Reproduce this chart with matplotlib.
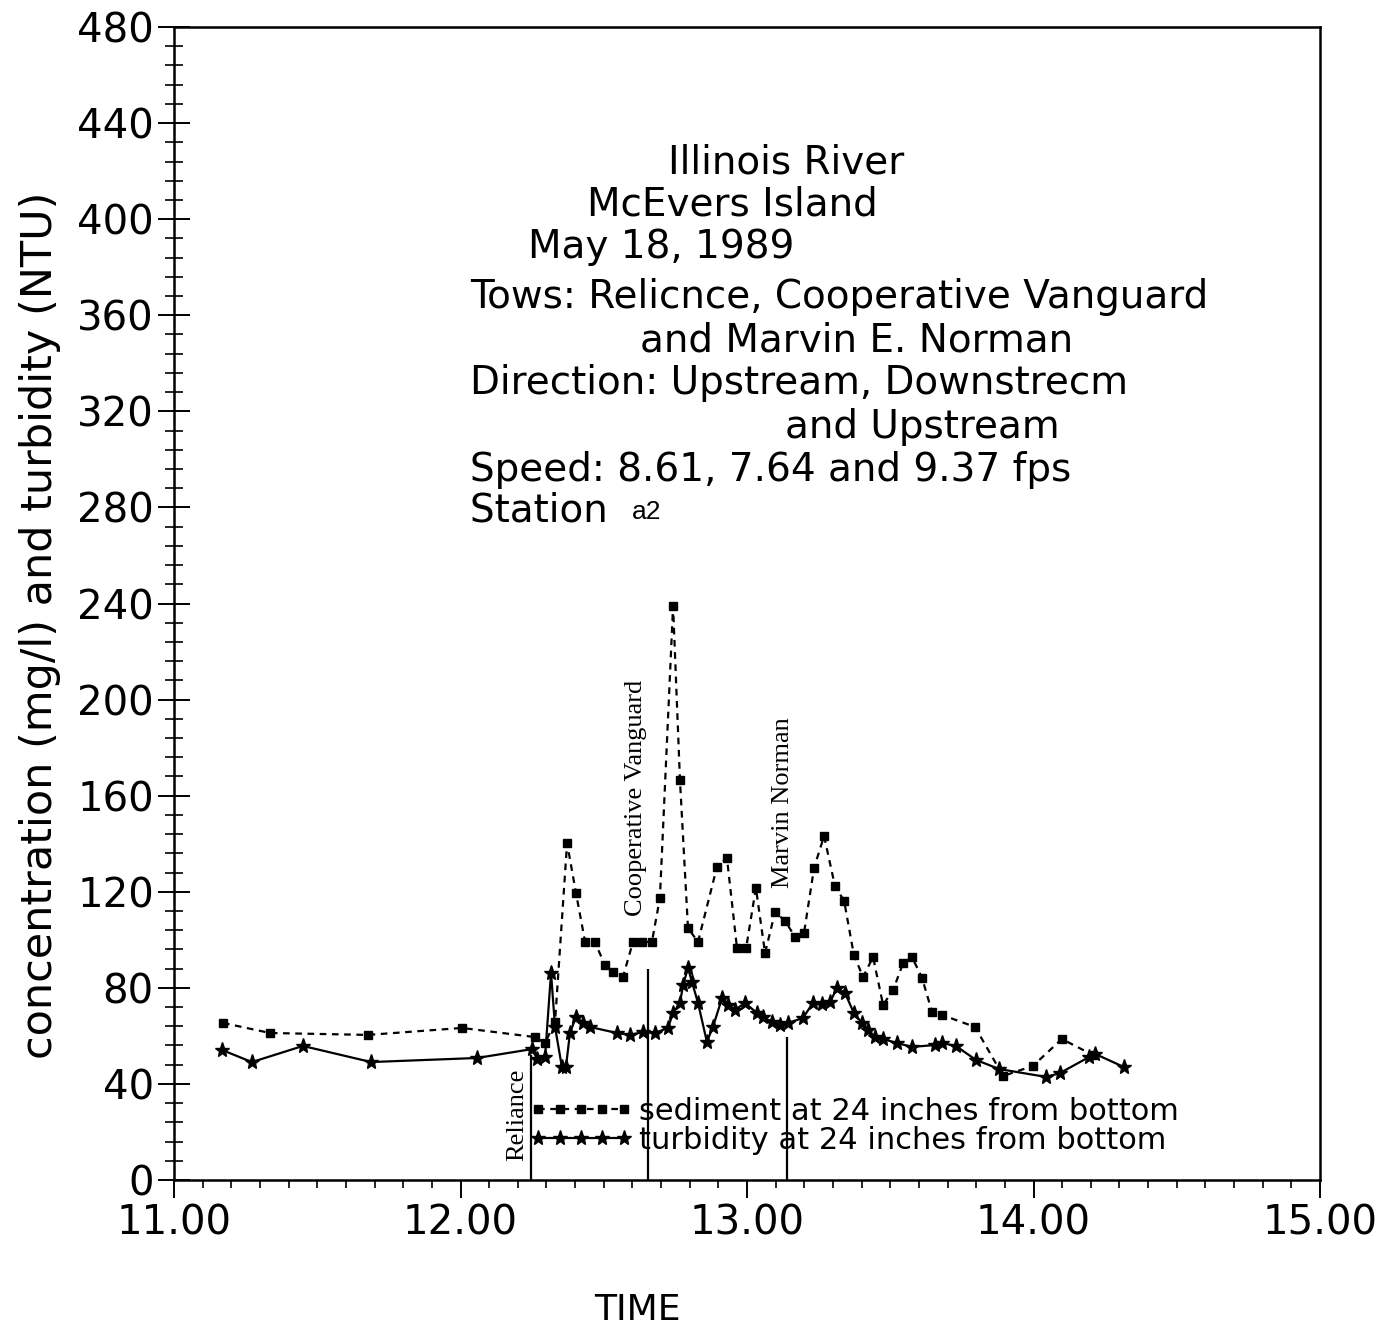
import matplotlib
matplotlib.use("Agg")
import matplotlib.pyplot as plt
from matplotlib.ticker import MultipleLocator, FormatStrFormatter

plt.rcParams['font.family'] = ['DejaVu Sans']

# ---- data ----
sed_time = [11.171, 11.335, 11.677, 12.005, 12.260, 12.295, 12.330, 12.372, 12.403,
            12.435, 12.469, 12.504, 12.532, 12.567, 12.602, 12.633, 12.668, 12.696,
            12.742, 12.766, 12.794, 12.829, 12.895, 12.930, 12.965, 12.997, 13.031,
            13.063, 13.098, 13.133, 13.168, 13.199, 13.234, 13.269, 13.307, 13.339,
            13.373, 13.405, 13.440, 13.475, 13.510, 13.545, 13.576, 13.611, 13.646,
            13.681, 13.796, 13.894, 13.998, 14.099, 14.208]
sed_conc = [65.4, 61.2, 60.4, 63.3, 59.5, 57.0, 65.8, 140.3, 119.5,
            99.1, 99.1, 89.5, 86.6, 84.5, 99.1, 99.1, 99.1, 117.4,
            239.0, 166.5, 104.9, 99.1, 130.3, 134.1, 96.6, 96.6, 121.6,
            94.5, 111.6, 107.8, 101.2, 102.8, 129.9, 143.2, 122.4, 116.2,
            93.7, 84.5, 92.8, 72.9, 79.1, 90.3, 92.8, 84.1, 69.9,
            68.7, 63.7, 43.3, 47.5, 58.7, 52.0]

turb_time = [11.168, 11.272, 11.450, 11.688, 12.058, 12.250, 12.267, 12.295, 12.316,
             12.330, 12.354, 12.368, 12.382, 12.403, 12.428, 12.452, 12.546, 12.592,
             12.637, 12.679, 12.724, 12.742, 12.766, 12.777, 12.794, 12.808, 12.829,
             12.860, 12.881, 12.913, 12.934, 12.958, 12.993, 13.035, 13.056, 13.087,
             13.115, 13.143, 13.195, 13.230, 13.262, 13.290, 13.314, 13.342, 13.373,
             13.401, 13.422, 13.447, 13.475, 13.524, 13.576, 13.656, 13.681, 13.729,
             13.799, 13.880, 14.044, 14.092, 14.194, 14.215, 14.316]
turb_ntu = [54.1, 49.1, 55.8, 49.1, 50.8, 54.5, 50.4, 51.2, 86.2,
            63.7, 47.0, 47.0, 61.2, 67.9, 65.4, 63.7, 61.2, 60.4,
            61.6, 61.2, 63.3, 69.5, 73.7, 81.2, 88.3, 82.4, 73.7,
            57.5, 63.7, 75.8, 72.9, 70.8, 73.7, 69.5, 67.9, 65.8,
            64.5, 65.4, 67.4, 73.7, 73.3, 74.1, 79.9, 77.9, 69.5,
            65.4, 62.4, 59.5, 58.7, 57.0, 55.4, 56.2, 57.0, 55.8,
            50.0, 46.2, 42.9, 44.5, 51.2, 52.5, 47.0]

tow_names = ["Reliance", "Cooperative Vanguard", "Marvin Norman"]
tow_times = [12.246, 12.654, 13.140]
tow_line_top = [52.0, 88.0, 59.5]

x_ticks = [11, 12, 13, 14, 15]
y_ticks = [0, 40, 80, 120, 160, 200, 240, 280, 320, 360, 400, 440, 480]

title_lines = ["Illinois River", "McEvers Island", "May 18, 1989",
               "Tows: Relicnce, Cooperative Vanguard", "and Marvin E. Norman",
               "Direction: Upstream, Downstrecm", "and Upstream",
               "Speed: 8.61, 7.64 and 9.37 fps", "Station "]

# ---- figure ----
W, H = 1380, 1327
fig = plt.figure(figsize=(W / 100, H / 100), dpi=100)
ax = fig.add_axes([174 / W, 1 - 1180 / H, (1320 - 174) / W, (1180 - 27) / H])

ax.plot(sed_time, sed_conc, color='black', linestyle=(0, (3, 2.5)), linewidth=1.6,
        marker='s', markersize=6, label='sediment at 24 inches from bottom')
ax.plot(turb_time, turb_ntu, color='black', linestyle='-', linewidth=1.6,
        marker='*', markersize=11, label='turbidity at 24 inches from bottom')

ax.vlines(tow_times, 0, tow_line_top, colors='black', linewidth=1.6)

label_pos = [(12.198, 27.0), (12.613, 159.0), (13.126, 157.0)]
for name, (lx, ly) in zip(tow_names, label_pos):
    ax.text(lx, ly, name, rotation=90, ha='center', va='center',
            family='Liberation Serif', fontsize=19)

ax.set_xlim(11, 15)
ax.set_ylim(0, 480)
ax.set_xticks(x_ticks)
ax.set_yticks(y_ticks)
ax.xaxis.set_major_formatter(FormatStrFormatter('%.2f'))
ax.xaxis.set_minor_locator(MultipleLocator(0.1))
ax.yaxis.set_minor_locator(MultipleLocator(8))
ax.tick_params(axis='x', which='major', direction='out', length=13, width=1.4,
               labelsize=29, pad=4)
ax.tick_params(axis='x', which='minor', direction='out', length=6, width=1.2)
ax.tick_params(axis='y', which='major', direction='inout', length=23, width=1.4,
               labelsize=29, pad=3)
ax.tick_params(axis='y', which='minor', direction='inout', length=13, width=1.2)
for s in ax.spines.values():
    s.set_linewidth(1.8)

ax.set_ylabel('concentration (mg/l) and turbidity (NTU)', fontsize=31)
ax.yaxis.set_label_coords(-(174 - 40) / (1320 - 174), (1180 - 625) / (1180 - 27))
ax.yaxis.label.set_va('center')
ax.set_xlabel('TIME', fontsize=26)
ax.xaxis.set_label_coords((637 - 174) / (1320 - 174), -(1310 - 1180) / (1180 - 27))
ax.xaxis.label.set_va('center')

# title block
tx = [668, 587, 528, 470, 640, 470, 785, 470, 470]
ty = [162, 205, 247, 297, 340, 383, 427, 470, 510]
for s, px, py in zip(title_lines, tx, ty):
    fig.text(px / W, 1 - py / H, s, fontsize=28, ha='left', va='center')
fig.text(632 / W, 1 - 512 / H, "a2", fontsize=19, ha='left', va='center',
         family='Liberation Sans')

leg = ax.legend(loc='lower left', bbox_to_anchor=((529 - 174) / (1320 - 174), 0.022),
                frameon=False, numpoints=5, handlelength=3.4, handletextpad=0.2,
                labelspacing=0.0, fontsize=22, borderpad=0, borderaxespad=0)

fig.savefig('out.png', dpi=100)
